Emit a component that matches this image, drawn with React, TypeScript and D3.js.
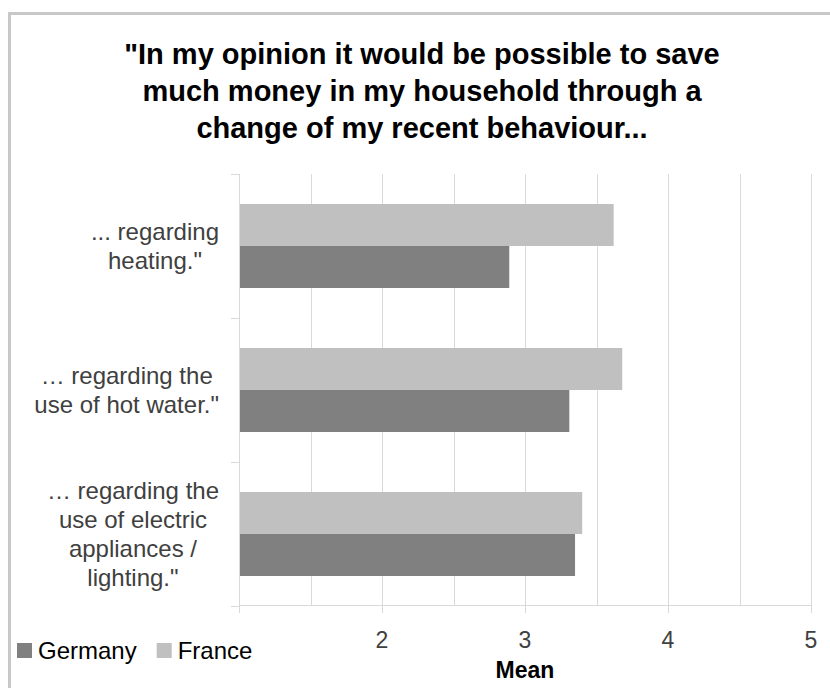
import React, { useEffect, useRef } from "react";
import * as d3 from "d3";

// Survey means per category (scale 1–5)
const categories: string[] = ["heating", "hotWater", "electric"];
const categoryLines: string[][] = [
  ["... regarding", "heating.\""],
  ["… regarding the", "use of hot water.\""],
  ["… regarding the", "use of electric", "appliances /", "lighting.\""],
];
const seriesNames: string[] = ["France", "Germany"];
const franceValues: number[] = [3.62, 3.68, 3.4];
const germanyValues: number[] = [2.89, 3.31, 3.35];
const majorTicks: number[] = [2, 3, 4, 5];
const gridValues: number[] = [1, 1.5, 2, 2.5, 3, 3.5, 4, 4.5, 5];
const titleLines: string[] = [
  "\"In my opinion it would be possible to save",
  "much money in my household through a",
  "change of my recent behaviour...",
];
const legendItems: string[] = ["Germany", "France"];

const W = 830;
const H = 688;
const FONT = "'Liberation Sans', Arial, Helvetica, sans-serif";
const COLORS: Record<string, string> = { France: "#c0c0c0", Germany: "#808080" };

export default function App() {
  const ref = useRef<SVGSVGElement | null>(null);

  useEffect(() => {
    const svg = d3.select(ref.current);
    svg.selectAll("*").remove();

    const x = d3.scaleLinear().domain([1, 5]).range([239, 811]);
    const y = d3
      .scaleBand<string>()
      .domain(categories)
      .range([174, 606])
      .paddingInner(0.4167)
      .paddingOuter(0.2083);
    const sub = d3
      .scaleBand<string>()
      .domain(seriesNames)
      .range([0, y.bandwidth()]);

    // chart frame
    svg
      .append("rect")
      .attr("x", 9.5)
      .attr("y", 13.5)
      .attr("width", 900)
      .attr("height", 800)
      .attr("fill", "#fff")
      .attr("stroke", "#c8c8c8")
      .attr("stroke-width", 3);

    // title
    const title = svg
      .append("text")
      .attr("font-family", FONT)
      .attr("font-size", 29)
      .attr("font-weight", "bold")
      .attr("fill", "#000")
      .attr("text-anchor", "middle");
    titleLines.forEach((t, i) => {
      title
        .append("tspan")
        .attr("x", 422)
        .attr("y", 64 + i * 37)
        .text(t);
    });

    const [y0, y1] = y.range();

    // vertical gridlines
    svg
      .append("g")
      .selectAll("line")
      .data(gridValues.slice(1))
      .join("line")
      .attr("x1", (d) => Math.round(x(d)) + 0.5)
      .attr("x2", (d) => Math.round(x(d)) + 0.5)
      .attr("y1", y0)
      .attr("y2", y1)
      .attr("stroke", "#d9d9d9")
      .attr("stroke-width", 1);

    // bars
    const data = categories.flatMap((c, i) => [
      { c, s: "France", v: franceValues[i] },
      { c, s: "Germany", v: germanyValues[i] },
    ]);
    svg
      .append("g")
      .selectAll("rect")
      .data(data)
      .join("rect")
      .attr("x", x(1))
      .attr("y", (d) => (y(d.c) as number) + (sub(d.s) as number))
      .attr("width", (d) => x(d.v) - x(1))
      .attr("height", sub.bandwidth())
      .attr("fill", (d) => COLORS[d.s]);

    // value axis line + major ticks
    const axisG = svg.append("g").attr("stroke", "#d9d9d9").attr("stroke-width", 1);
    axisG
      .append("line")
      .attr("x1", x(1))
      .attr("x2", x(5))
      .attr("y1", y1 - 0.5)
      .attr("y2", y1 - 0.5);
    axisG
      .selectAll("line.tick")
      .data([1, ...majorTicks])
      .join("line")
      .attr("class", "tick")
      .attr("x1", (d) => Math.round(x(d)) + 0.5)
      .attr("x2", (d) => Math.round(x(d)) + 0.5)
      .attr("y1", y1)
      .attr("y2", y1 + 7);

    // category axis line + ticks
    axisG
      .append("line")
      .attr("x1", Math.round(x(1)) + 0.5)
      .attr("x2", Math.round(x(1)) + 0.5)
      .attr("y1", y0)
      .attr("y2", y1);
    const step = y.step();
    const bounds = categories.map((c) => (y(c) as number) - y.paddingInner() * step / 2);
    bounds.push(y1);
    axisG
      .selectAll("line.ctick")
      .data(bounds)
      .join("line")
      .attr("class", "ctick")
      .attr("x1", x(1) - 8)
      .attr("x2", x(1))
      .attr("y1", (d) => Math.round(d) + 0.5)
      .attr("y2", (d) => Math.round(d) + 0.5);

    // value tick labels
    svg
      .append("g")
      .selectAll("text")
      .data(majorTicks)
      .join("text")
      .attr("x", (d) => x(d))
      .attr("y", 648)
      .attr("text-anchor", "middle")
      .attr("font-family", FONT)
      .attr("font-size", 23)
      .attr("fill", "#404040")
      .text((d) => String(d));

    // axis title
    svg
      .append("text")
      .attr("x", (x(1) + x(5)) / 2)
      .attr("y", 678)
      .attr("text-anchor", "middle")
      .attr("font-family", FONT)
      .attr("font-size", 23)
      .attr("font-weight", "bold")
      .attr("fill", "#000")
      .text("Mean");

    // category labels: block right-aligned to the axis, lines centred within block
    const lineH = 29;
    const rightEdge = 219;
    categories.forEach((c, i) => {
      const lines = categoryLines[i];
      const cy = (y(c) as number) + y.bandwidth() / 2;
      const g = svg.append("g");
      const texts = lines.map((t, j) =>
        g
          .append("text")
          .attr("font-family", FONT)
          .attr("font-size", 24)
          .attr("fill", "#404040")
          .attr("text-anchor", "middle")
          .attr("y", cy + (j - (lines.length - 1) / 2) * lineH + 8.5)
          .text(t)
      );
      const maxW = d3.max(texts, (t) => (t.node() as SVGTextElement).getComputedTextLength()) || 0;
      texts.forEach((t) => t.attr("x", rightEdge - maxW / 2));
    });

    // legend
    const leg = svg.append("g");
    let lx = 17;
    legendItems.forEach((name) => {
      leg
        .append("rect")
        .attr("x", lx)
        .attr("y", 643)
        .attr("width", 15)
        .attr("height", 15)
        .attr("fill", COLORS[name]);
      const t = leg
        .append("text")
        .attr("x", lx + 21)
        .attr("y", 659)
        .attr("font-family", FONT)
        .attr("font-size", 24)
        .attr("fill", "#000")
        .text(name);
      lx += 21 + (t.node() as SVGTextElement).getComputedTextLength() + 20;
    });
  }, []);

  return (
    <div style={{ position: "absolute", left: 0, top: 0, width: W, height: H, overflow: "hidden" }}>
      <svg ref={ref} width={W} height={H} style={{ display: "block" }} />
    </div>
  );
}
